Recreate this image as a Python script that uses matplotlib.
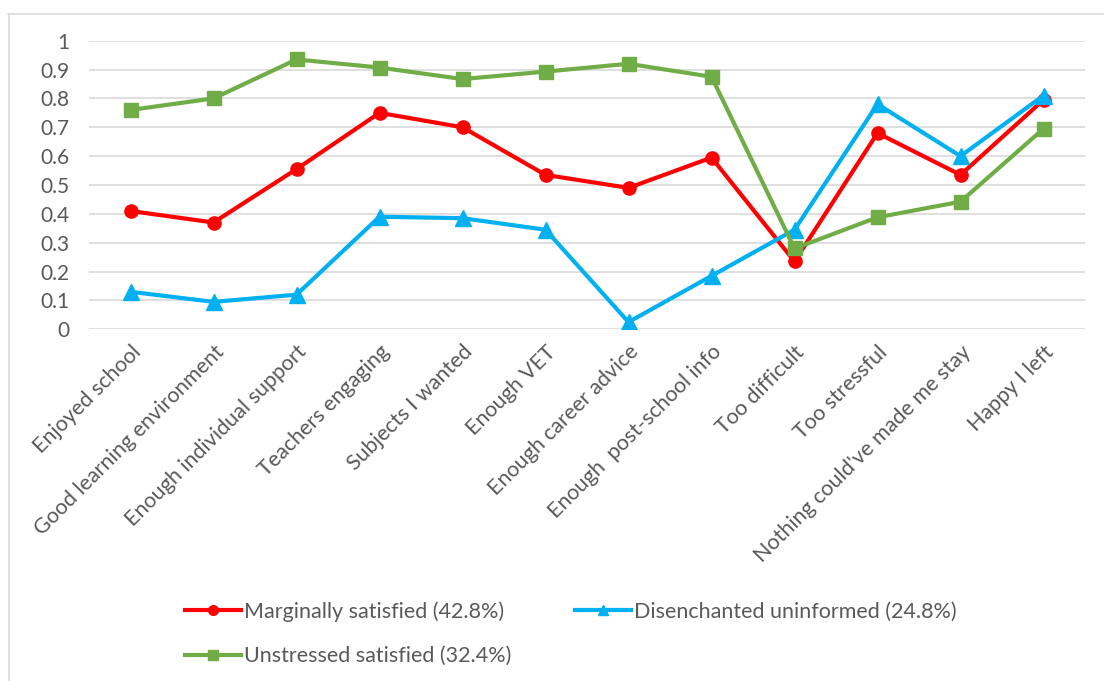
#!/usr/bin/env python
# -*- coding: utf-8 -*-

"""
School leaver satisfaction profiles by cluster
"""

import matplotlib
matplotlib.use('Agg')
from matplotlib import pyplot as plt
from matplotlib.lines import Line2D

categories = ['Enjoyed school', 'Good learning environment', 'Enough individual support',
              'Teachers engaging', 'Subjects I wanted', 'Enough VET', 'Enough career advice',
              'Enough  post-school info', 'Too difficult', 'Too stressful',
              "Nothing could've made me stay", 'Happy I left']

marginally = [0.41, 0.37, 0.555, 0.75, 0.70, 0.535, 0.49, 0.595, 0.235, 0.68, 0.535, 0.795]
disenchanted = [0.13, 0.095, 0.12, 0.39, 0.385, 0.345, 0.025, 0.185, 0.345, 0.78, 0.60, 0.81]
unstressed = [0.76, 0.80, 0.935, 0.907, 0.867, 0.893, 0.92, 0.875, 0.28, 0.388, 0.442, 0.695]

series_labels = ['Marginally satisfied (42.8%)', 'Disenchanted uninformed (24.8%)',
                 'Unstressed satisfied (32.4%)']

plt.rcParams['font.family'] = ['Lato', 'DejaVu Sans']
text_col = '#595959'
red, blue, green = '#FF0000', '#00B0F0', '#70AD47'

fig = plt.figure(figsize=(11.04, 6.81), dpi=100)
ax = fig.add_axes((89 / 1104, 1 - 329.3 / 681, (1085 - 89) / 1104, (329.3 - 40.7) / 681))

x = list(range(len(categories)))
ax.plot(x, marginally, color=red, lw=3, marker='o', ms=9.5, zorder=3)
ax.plot(x, disenchanted, color=blue, lw=3, marker='^', ms=11, zorder=3)
ax.plot(x, unstressed, color=green, lw=3, marker='s', ms=10, zorder=3)

ax.set_xlim(-0.5, len(categories) - 0.5)
ax.set_ylim(0, 1)
ax.set_yticks([i / 10 for i in range(11)])
ax.set_yticklabels(['0'] + ['0.%d' % i for i in range(1, 10)] + ['1'])
ax.yaxis.grid(True, color='#D9D9D9', lw=1.2)
ax.set_axisbelow(True)
for s in ax.spines.values():
    s.set_visible(False)
ax.tick_params(axis='both', length=0, colors=text_col)
ax.tick_params(axis='y', pad=14, labelsize=15)
ax.set_xticks(x)
ax.set_xticklabels(categories, rotation=45, ha='right', rotation_mode='anchor', fontsize=15.5)
ax.tick_params(axis='x', pad=9)

# legend handles with small markers, ordered so rows read red/blue then green
h1 = Line2D([], [], color=red, lw=3, marker='o', ms=7)
h2 = Line2D([], [], color=blue, lw=3, marker='^', ms=7)
h3 = Line2D([], [], color=green, lw=3, marker='s', ms=7)
leg = fig.legend([h1, h3, h2], [series_labels[0], series_labels[2], series_labels[1]],
                 ncol=2, loc='upper left',
                 bbox_to_anchor=(166 / 1104, 1 - 582 / 681), frameon=False,
                 fontsize=15.5, handlelength=2.6, handletextpad=0.1,
                 columnspacing=3.0, labelspacing=1.12, labelcolor=text_col)

# chart area outline
fig.add_artist(Line2D([8 / 1104, 1.0], [1 - 14 / 681, 1 - 14 / 681], color='#D9D9D9', lw=1.2))
fig.add_artist(Line2D([9 / 1104, 9 / 1104], [1 - 14 / 681, 0.0], color='#D9D9D9', lw=1.2))

plt.savefig('out.png', dpi=100)
